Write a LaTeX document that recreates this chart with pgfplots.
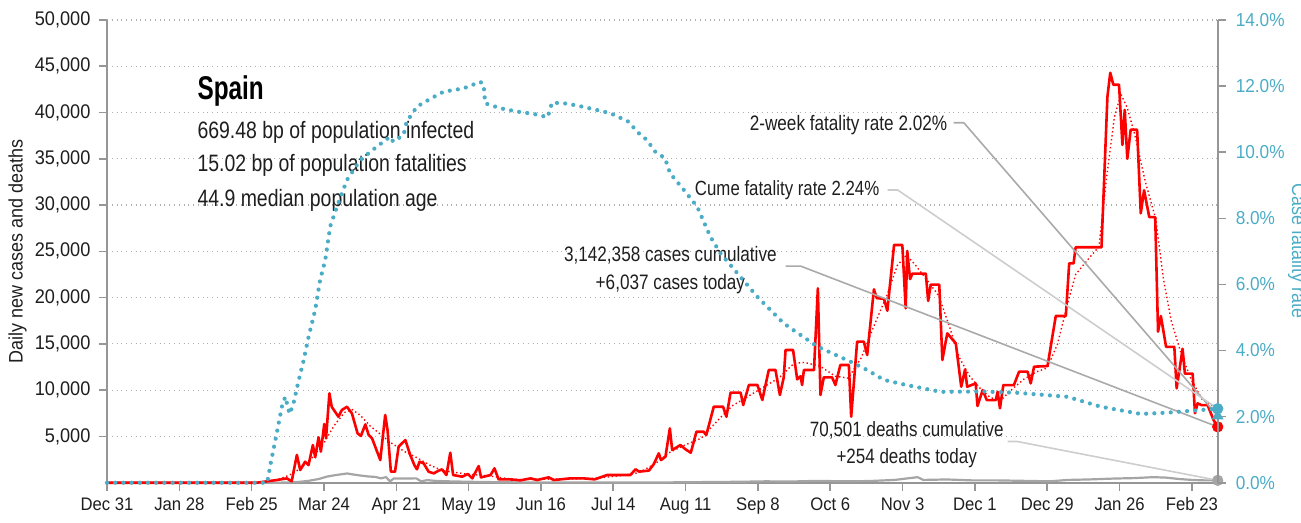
\documentclass[border=0pt]{standalone}
\usepackage{pgfplots}
\pgfplotsset{compat=1.18}
\usepackage{fontspec}
\setmainfont{Liberation Sans}[FakeStretch=0.82]
\newfontfamily\tickfont{Liberation Sans}[FakeStretch=0.92]
\newfontfamily\titlefont{Liberation Sans}[FakeStretch=0.74]
\definecolor{cfr}{RGB}{75,172,198}
\definecolor{axisgray}{RGB}{150,150,150}
\definecolor{gridgray}{RGB}{175,175,175}
\definecolor{deathgray}{RGB}{165,165,165}
\definecolor{txt}{RGB}{30,30,30}
\definecolor{annoA}{RGB}{170,170,170}
\definecolor{annoB}{RGB}{205,205,205}
\begin{document}
\begin{tikzpicture}
\pgfplotsset{
  every axis/.append style={
    scale only axis, width=555.35bp, height=231.35bp,
    xmin=0, xmax=430,
    /pgf/number format/assume math mode=true,
    tick align=outside, major tick length=4bp,
    axis line style={draw=axisgray, line width=1bp},
    tick style={draw=axisgray, line width=0.8bp},
  }
}
\begin{axis}[
  ymin=0, ymax=50000,
  axis x line*=bottom, axis y line*=left,
  xtick={0,28,...,420},
  xticklabels={Dec 31,Jan 28,Feb 25,Mar 24,Apr 21,May 19,Jun 16,Jul 14,Aug 11,Sep 8,Oct 6,Nov 3,Dec 1,Dec 29,Jan 26,Feb 23},
  ytick={5000,10000,...,50000},
  scaled y ticks=false,
  yticklabel style={/pgf/number format/fixed, /pgf/number format/1000 sep={,}, text=txt, xshift=-0.8bp, font=\tickfont\fontsize{9.9}{11}\selectfont},
  xticklabel style={text=txt, font=\tickfont\fontsize{9.1}{11}\selectfont},
  ymajorgrids, grid style={dotted, line width=0.6bp, draw=gridgray},
  ylabel={Daily new cases and deaths},
  ylabel style={at={(axis description cs:-0.0805,0.5)}, anchor=center, font=\tickfont\fontsize{9.8}{11}\selectfont, text=txt},
  clip=false,
]
% deaths
\addplot[deathgray, line width=1.1bp] coordinates {
(0,0) (66,0) (70,30) (74,80) (78,200) (82,400) (85,650) (88,800) (91,920) (93,1000) (95,900) (98,780) (101,680) (104,620) (106,470) (108,600) (109.6,150) (111,450) (115,450) (119.7,470) (121.6,150) (124,280) (127,200) (132,150) (140,100) (150,60) (160,30) (180,20) (200,20) (215,30) (225,50) (235,80) (245,100) (255,150) (265,130) (275,200) (285,150) (295,180) (305,300) (313.8,600) (316,300) (325,350) (335,250) (345,250) (355,200) (365,150) (372,300) (380,350) (390,450) (398,500) (405,600) (410,550) (415,400) (420,300) (425,250) (430,254)
};
% moving average
\addplot[red, line width=0.7bp, dash pattern=on 0.7bp off 1.3bp] coordinates {
(0,0) (60,50) (66,300) (72,1000) (78,2200) (84,4300) (88,6200) (92,7600) (95,7900) (98,7300) (102,6100) (106,5200) (110,4300) (115,3400) (120,2700) (125,1900) (130,1300) (135,1100) (140,900) (145,800) (150,650) (155,450) (160,330) (170,380) (180,400) (190,500) (200,800) (206,1100) (212,2000) (218,3300) (224,4100) (230,4800) (236,6600) (242,8300) (248,9300) (254,10300) (260,11300) (266,12900) (270,13000) (276,12600) (282,11500) (287,11300) (292,13500) (297,17000) (302,20300) (306,23500) (309.5,24600) (313,23500) (318,21700) (322,20200) (326,17000) (330,13500) (334,11500) (338,10200) (342,9200) (346,8900) (350,10000) (355,11200) (360,12000) (364,12400) (368,15000) (372,19500) (375,22500) (380,24200) (384,25500) (387,33000) (390,39500) (392.5,42000) (395,40500) (398,37500) (402,32500) (406,28500) (409,22000) (412,17500) (416,13800) (420,11000) (424,9000) (428,8300) (430,8000)
};
% daily cases
\addplot[red, line width=1.3bp, line join=round] coordinates {
(0,0) (58,0) (62,150) (66,300) (69.6,470) (71.5,150) (73.5,3000) (74.8,1370) (76.7,2270) (78,1900) (79.7,4070) (80.6,2750) (81.9,4900) (82.8,3350) (84.1,6340) (84.8,4800) (86.1,9660) (87,8200) (89.6,7130) (90.9,7850) (92.9,8210) (94.8,7500) (97,5340) (98.3,5050) (100,6300) (101.3,5160) (102.6,4800) (105.8,2450) (107.7,7320) (108.6,5700) (109.9,1190) (111.5,1190) (112.9,3900) (115.5,4610) (117.4,2990) (119,1900) (120,1440) (121,2270) (122.6,2090) (124.5,1190) (126.5,1010) (128.4,1300) (129.7,1440) (131.4,830) (132.9,3240) (134,830) (137.5,650) (139.7,940) (141.4,470) (143.9,1800) (144.8,580) (148.5,830) (150,1550) (151.6,360) (156,360) (160,250) (164,470) (166.5,290) (171,580) (173,290) (179.4,470) (184.5,470) (188.8,360) (193.6,830) (202.6,830) (204.6,1450) (206,1200) (209.8,1310) (211.7,2020) (213.6,3170) (214.5,2450) (216.2,2810) (217.9,5870) (218.8,3530) (222,4070) (224,3600) (226,3240) (228.2,5510) (231,5510) (232,5150) (234.9,8210) (238.5,8210) (239.8,7130) (241.4,9730) (245.3,9730) (246.3,8390) (248.5,10560) (251.8,10560) (253.7,8940) (256.2,12180) (258.8,12180) (260.5,9480) (262,11390) (262.7,14340) (265.6,14340) (267.2,11170) (268.5,11500) (269.1,10560) (269.8,12180) (273.7,12180) (275.2,21000) (276.2,9480) (277.5,11390) (280.7,11390) (282,10560) (283.9,12720) (287.2,12720) (288.1,7130) (290.4,15240) (293,15240) (294.3,13800) (296.9,20900) (298,19950) (300.8,19860) (302.1,18580) (304.7,25690) (307.9,25690) (309.2,18850) (309.8,25050) (310.9,22000) (311.8,22600) (317,22600) (317.9,19640) (318.9,21400) (322.2,21400) (323.4,13260) (325.3,16140) (328.6,15060) (330.7,10370) (332.2,12240) (333,10370) (336.3,10730) (337,8290) (339,10010) (340.6,8930) (344.1,8930) (344.8,9830) (345.7,8040) (347,10550) (351.1,10550) (353.1,12000) (356.4,12000) (357.6,10730) (358.9,12540) (364.1,12600) (367.3,18010) (371.2,18010) (372.5,23700) (374.2,23700) (375,25440) (385,25440) (387.3,41710) (388.4,44300) (389.6,43000) (391.8,43000) (393.1,36500) (394,40290) (395,35000) (396.3,38140) (398.8,38140) (400.2,29110) (401.5,31600) (403.5,28700) (405.8,28700) (406.9,16320) (408,18010) (410,14680) (413.2,14680) (414.1,10200) (416.4,14470) (417.3,11780) (420.3,11780) (421.2,7500) (422.2,8570) (423.8,8380) (426.1,8380) (428.4,6770) (430,6037)
};
% leader lines
\draw[annoA, line width=0.8bp] (axis cs:327.8,38900) -- (axis cs:331.7,38900) -- (axis cs:430,7214);
\draw[annoB, line width=0.8bp] (axis cs:302.2,31630) -- (axis cs:306.1,31630) -- (axis cs:430,8000);
\draw[annoA, line width=0.8bp] (axis cs:262.7,23410) -- (axis cs:268.5,23410) -- (axis cs:430,6037);
\draw[annoB, line width=0.8bp] (axis cs:348.7,4450) -- (axis cs:352.4,4450) -- (axis cs:430,254);
% end markers
\addplot[only marks, mark=*, mark size=2.6bp, red] coordinates {(430,6037)};
\addplot[only marks, mark=*, mark size=2.6bp, deathgray] coordinates {(430,254)};
% texts
\node[anchor=west, inner sep=0pt, font=\titlefont\fontsize{16.5}{20}\bfseries, text=black] at (axis cs:34.9,42350) {Spain};
\node[anchor=west, inner sep=0pt, font=\fontsize{11.9}{13}\selectfont, text=txt] at (axis cs:34.9,37900) {669.48 bp of population infected};
\node[anchor=west, inner sep=0pt, font=\fontsize{11.9}{13}\selectfont, text=txt] at (axis cs:34.9,34300) {15.02 bp of population fatalities};
\node[anchor=west, inner sep=0pt, font=\fontsize{11.9}{13}\selectfont, text=txt] at (axis cs:34.9,30500) {44.9 median population age};
\node[anchor=east, font=\fontsize{10.5}{12}\selectfont, text=txt, inner sep=1bp] at (axis cs:326.2,38650) {2-week fatality rate 2.02\%};
\node[anchor=east, font=\fontsize{10.3}{12}\selectfont, text=txt, inner sep=1bp] at (axis cs:299.9,31630) {Cume fatality rate 2.24\%};
\node[align=center, font=\fontsize{10.5}{14}\selectfont, text=txt] at (axis cs:218.1,23000) {3,142,358 cases cumulative\\+6,037 cases today};
\node[align=center, font=\fontsize{10.4}{13.5}\selectfont, text=txt] at (axis cs:309.6,4150) {70,501 deaths cumulative\\+254 deaths today};
\end{axis}
\begin{axis}[
  ymin=0, ymax=14,
  axis x line=none, axis y line*=right,
  ytick={0,2,...,14},
  yticklabel={\pgfmathprintnumber[fixed,fixed zerofill,precision=1]{\tick}\%},
  yticklabel style={text=cfr, xshift=1.5bp, font=\tickfont\fontsize{9.4}{11}\selectfont},
  ylabel={Case fatality rate},
  ylabel style={at={(axis description cs:1.0715,0.5)}, anchor=center, rotate=180, font=\tickfont\fontsize{9.8}{11}\selectfont, text=cfr},
  clip=false,
]
\addplot[cfr, line width=2.1bp, line cap=round, dash pattern=on 0bp off 4.1bp] coordinates {
(0,0) (62,0) (63.5,0.64) (65.7,1.49) (67.7,2.30) (69,2.6) (70.7,2.08) (72.2,2.4) (74.1,3.06) (76,3.66) (78,4.4) (80.6,5.23) (82.5,6.13) (84.5,6.74) (86.4,7.75) (89,8.35) (92.9,9.16) (98,9.76) (104.5,10.17) (109.6,10.47) (110.8,10.32) (114.8,10.52) (116,10.92) (120,11.38) (125.5,11.63) (130.3,11.83) (138,11.93) (144.5,12.13) (145.8,12.05) (146.4,11.48) (152.2,11.33) (158.7,11.23) (165.1,11.16) (170.6,11.06) (172.3,11.5) (178.1,11.47) (184.5,11.37) (194.9,11.18) (202,10.92) (205.2,10.62) (209,10.37) (212.2,10.02) (216,9.82) (218,9.36) (223.3,8.86) (228.5,8.35) (233.6,7.44) (237.5,6.94) (245.2,6.23) (251.7,5.63) (262,4.82) (275,4.12) (287.9,3.66) (294.3,3.41) (300.8,3.11) (309.2,2.96) (322.7,2.75) (339.5,2.76) (352.4,2.72) (371.8,2.60) (384.7,2.30) (400.2,2.08) (410.6,2.12) (423.5,2.20) (430,2.24)
};
\addplot[only marks, mark=*, mark size=2.6bp, cfr] coordinates {(430,2.24)};
\addplot[only marks, mark=triangle*, mark size=3bp, cfr] coordinates {(430,2.02)};
\end{axis}
\pgfresetboundingbox
\path[use as bounding box] ([xshift=-53.5bp,yshift=-19.65bp]current axis.south west) rectangle ([xshift=41.65bp,yshift=10bp]current axis.north east);
\end{tikzpicture}
\end{document}
